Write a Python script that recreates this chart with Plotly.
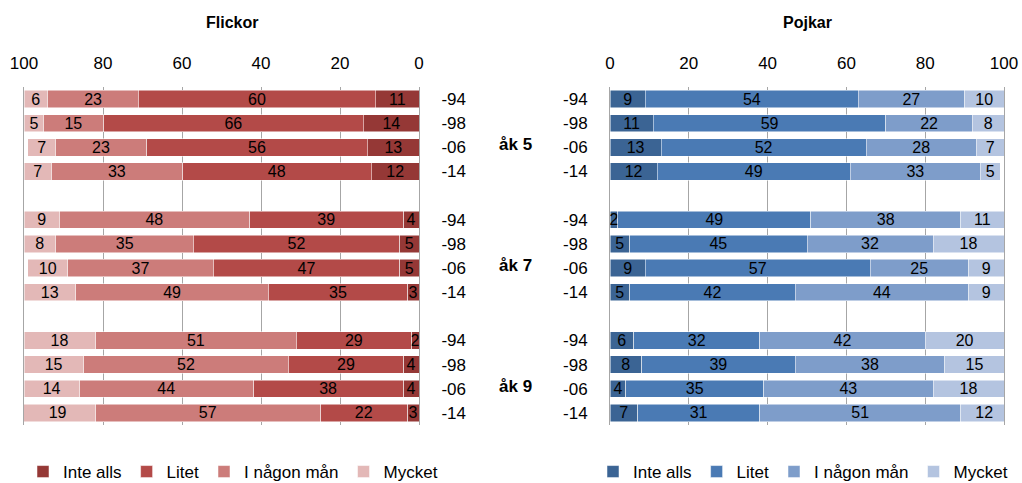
import plotly.graph_objects as go

grades = ["åk 5", "åk 7", "åk 9"]
years = ["-94", "-98", "-06", "-14"]
series = ["Inte alls", "Litet", "I någon mån", "Mycket"]

# Flickor, per series, rows ordered åk5(-94,-98,-06,-14), åk7(...), åk9(...)
flickor = {
    "Inte alls":   [11, 14, 13, 12, 4, 5, 5, 3, 2, 4, 4, 3],
    "Litet":       [60, 66, 56, 48, 39, 52, 47, 35, 29, 29, 38, 22],
    "I någon mån": [23, 15, 23, 33, 48, 35, 37, 49, 51, 52, 44, 57],
    "Mycket":      [6, 5, 7, 7, 9, 8, 10, 13, 18, 15, 14, 19],
}
pojkar = {
    "Inte alls":   [9, 11, 13, 12, 2, 5, 9, 5, 6, 8, 4, 7],
    "Litet":       [54, 59, 52, 49, 49, 45, 57, 42, 32, 39, 35, 31],
    "I någon mån": [27, 22, 28, 33, 38, 32, 25, 44, 42, 38, 43, 51],
    "Mycket":      [10, 8, 7, 5, 11, 18, 9, 9, 20, 15, 18, 12],
}
x_ticks = [0, 20, 40, 60, 80, 100]

red_colors = ["#953836", "#B34A48", "#CC7C7A", "#E3B8B7"]
blue_colors = ["#3B6494", "#4A7AB4", "#7E9DCA", "#B4C4E0"]

# row positions: each grade block of 4 rows followed by an empty slot
ypos = [g * (len(years) + 1) + i for g in range(len(grades)) for i in range(len(years))]
ylabels = [y for g in grades for y in years]

FONT = "Liberation Sans"
fig = go.Figure()

def add_panel(data, colors, xa, ya, lg):
    for s, c in zip(series, colors):
        v = data[s]
        fig.add_trace(go.Bar(
            y=ypos, x=v, orientation="h", name=s,
            marker=dict(color=c, line=dict(width=0.5, color="white")),
            text=[str(a) for a in v], textposition="inside", insidetextanchor="middle",
            constraintext="none", textangle=0,
            textfont=dict(color="black", size=16, family=FONT),
            xaxis=xa, yaxis=ya, width=0.72, legend=lg, hoverinfo="x+name",
        ))

add_panel(flickor, red_colors, "x", "y", "legend")
add_panel(pojkar, blue_colors, "x2", "y2", "legend2")

ydom = [1 - 425 / 483, 1 - 87 / 483]
yrange = [len(grades) * (len(years) + 1) - 1.5, -0.5]
grid = "#A6A6A6"
tickfont = dict(size=17, family=FONT, color="black")

fig.update_layout(
    width=1022, height=483, barmode="stack", plot_bgcolor="white", paper_bgcolor="white",
    margin=dict(l=0, r=0, t=0, b=0, autoexpand=False), font=dict(family=FONT, color="black"),
    xaxis=dict(domain=[24 / 1022, 419 / 1022], range=[100, 0], side="top", tickvals=x_ticks,
               showgrid=True, gridcolor=grid, gridwidth=1, zeroline=False, tickfont=tickfont,
               ticks="", ticklabelstandoff=14, anchor="y", automargin=False),
    yaxis=dict(domain=ydom, range=yrange, tickvals=ypos, ticktext=ylabels, side="right",
               showgrid=False, zeroline=False, tickfont=tickfont, ticks="", ticklabelstandoff=18,
               showline=True, mirror=True, linecolor=grid, linewidth=1, anchor="x",
               automargin=False),
    xaxis2=dict(domain=[610 / 1022, 1004 / 1022], range=[0, 100], side="top", tickvals=x_ticks,
                showgrid=True, gridcolor=grid, gridwidth=1, zeroline=False, tickfont=tickfont,
                ticks="", ticklabelstandoff=14, anchor="y2", automargin=False),
    yaxis2=dict(domain=ydom, range=yrange, tickvals=ypos, ticktext=ylabels, side="left",
                showgrid=False, zeroline=False, tickfont=tickfont, ticks="", ticklabelstandoff=18,
                showline=True, mirror=True, linecolor=grid, linewidth=1, anchor="x2",
                automargin=False),
    legend=dict(orientation="h", x=233 / 1022, y=1 - 472 / 483, xanchor="center", yanchor="middle",
                font=dict(size=17, family=FONT), itemwidth=30, traceorder="normal"),
    legend2=dict(orientation="h", x=803 / 1022, y=1 - 472 / 483, xanchor="center", yanchor="middle",
                 font=dict(size=17, family=FONT), itemwidth=30, traceorder="normal"),
    showlegend=True,
)

fig.add_annotation(text="<b>Flickor</b>", x=232 / 1022, y=1 - 22 / 483, xref="paper", yref="paper",
                   xanchor="center", yanchor="middle", showarrow=False,
                   font=dict(size=16, family=FONT))
fig.add_annotation(text="<b>Pojkar</b>", x=807 / 1022, y=1 - 22 / 483, xref="paper", yref="paper",
                   xanchor="center", yanchor="middle", showarrow=False,
                   font=dict(size=16, family=FONT))
for g, name in enumerate(grades):
    fig.add_annotation(text=f"<b>{name}</b>", x=515 / 1022, xref="paper",
                       y=g * (len(years) + 1) + 1.9, yref="y", showarrow=False,
                       xanchor="center", yanchor="middle", font=dict(size=17, family=FONT))

fig.write_html("out.html", config={"displayModeBar": False},
               post_script="document.body.style.margin='0';")
